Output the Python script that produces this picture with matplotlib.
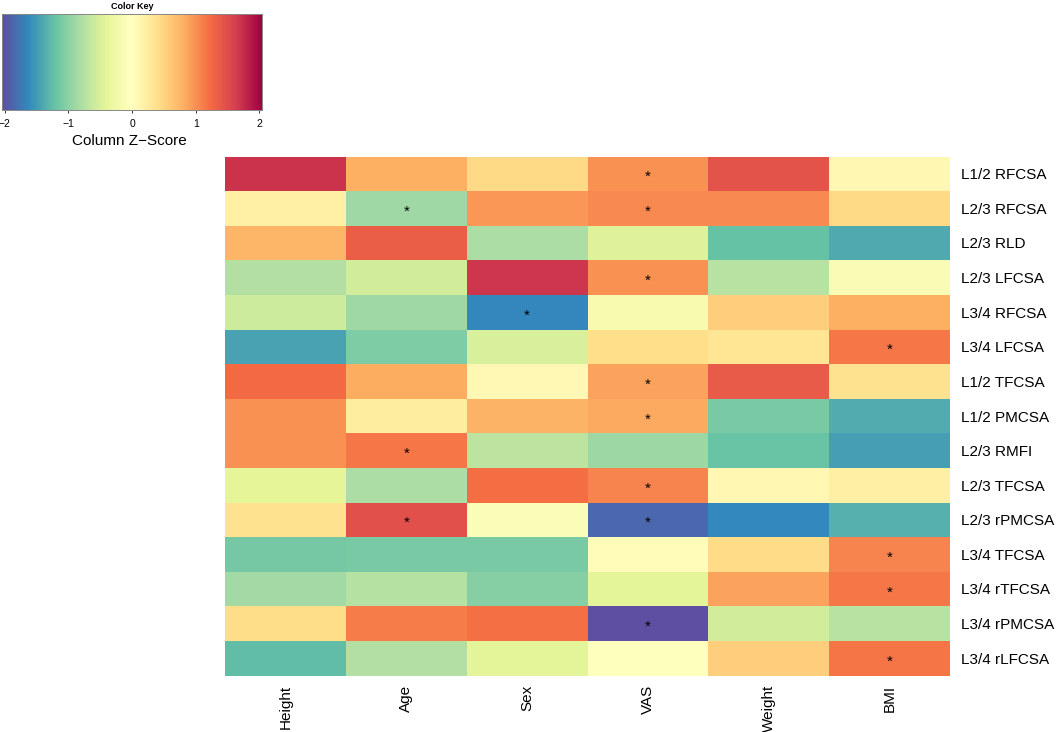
import matplotlib
matplotlib.use('Agg')
import matplotlib.pyplot as plt
import numpy as np

plt.rcParams['font.family'] = ['Liberation Sans', 'DejaVu Sans']

columns = ['Height', 'Age', 'Sex', 'VAS', 'Weight', 'BMI']
rows = ['L1/2 RFCSA', 'L2/3 RFCSA', 'L2/3 RLD', 'L2/3 LFCSA', 'L3/4 RFCSA',
        'L3/4 LFCSA', 'L1/2 TFCSA', 'L1/2 PMCSA', 'L2/3 RMFI', 'L2/3 TFCSA',
        'L2/3 rPMCSA', 'L3/4 TFCSA', 'L3/4 rTFCSA', 'L3/4 rPMCSA', 'L3/4 rLFCSA']

# z-scores, one row per label
zscores = np.array([
    [1.70, 0.80, 0.45, 1.00, 1.45, 0.10],
    [0.20, -0.88, 0.97, 1.05, 1.05, 0.45],
    [0.75, 1.35, -0.80, -0.45, -1.22, -1.40],
    [-0.75, -0.55, 1.68, 1.00, -0.72, -0.10],
    [-0.58, -0.88, -1.63, -0.15, 0.55, 0.80],
    [-1.45, -1.08, -0.50, 0.40, 0.33, 1.15],
    [1.25, 0.82, 0.08, 0.88, 1.38, 0.38],
    [1.00, 0.25, 0.78, 0.83, -1.10, -1.38],
    [1.00, 1.15, -0.70, -0.90, -1.20, -1.47],
    [-0.40, -0.80, 1.22, 1.08, 0.10, 0.22],
    [0.38, 1.48, -0.08, -1.85, -1.62, -1.35],
    [-1.12, -1.10, -1.10, 0.05, 0.44, 1.08],
    [-0.87, -0.74, -1.03, -0.42, 0.88, 1.15],
    [0.43, 1.13, 1.20, -2.03, -0.55, -0.72],
    [-1.25, -0.75, -0.43, -0.02, 0.55, 1.17],
])

# (row, column) cells marked significant
stars = [(0, 3), (1, 1), (1, 3), (3, 3), (4, 2), (5, 5), (6, 3), (7, 3), (8, 1),
         (9, 3), (10, 1), (10, 3), (11, 5), (12, 5), (13, 3), (14, 5)]

key_ticks = [-2, -1, 0, 1, 2]
key_labels = ['\u22122', '\u22121', '0', '1', '2']
zmax = 2.04
W, H = 1056, 732


def px_axes(left, top, right, bottom):
    return fig.add_axes([left / W, 1 - bottom / H, (right - left) / W, (bottom - top) / H])


fig = plt.figure(figsize=(W / 100, H / 100), dpi=100)

# main heatmap
ax = px_axes(225, 156.5, 950, 675.5)
ax.pcolormesh(zscores, cmap='Spectral_r', vmin=-zmax, vmax=zmax)
ax.set_xlim(0, len(columns))
ax.set_ylim(len(rows), 0)
ax.set_xticks(np.arange(len(columns)) + 0.5, columns, rotation=90, fontsize=11)
ax.yaxis.tick_right()
ax.set_yticks(np.arange(len(rows)) + 0.5, rows, fontsize=11)
ax.tick_params(length=0, pad=8)
ax.tick_params(axis='x', pad=7)
for side in ax.spines.values():
    side.set_visible(False)
for r, c in stars:
    ax.text(c + 0.5, r + 0.6, '*', ha='center', va='center', fontsize=11, color='black')

# colour key
key = px_axes(2, 14, 262, 110)
levels = np.linspace(-zmax, zmax, 257)
key.pcolormesh(levels, [0, 1], np.array([(levels[:-1] + levels[1:]) / 2]),
               cmap='Spectral_r', vmin=-zmax, vmax=zmax)
key.set_yticks([])
key.set_xticks(key_ticks, key_labels, fontsize=7.5)
key.tick_params(axis='x', length=2.5, width=0.7, pad=4, color='#333333')
for side in key.spines.values():
    side.set_linewidth(0.7)
    side.set_color('#888888')
key.set_title('Color Key', fontsize=6.5, fontweight='bold', pad=3.5)
key.set_xlabel('Column Z\u2212Score', fontsize=11, labelpad=3.5, x=0.488)

fig.savefig('out.png', dpi=100)
